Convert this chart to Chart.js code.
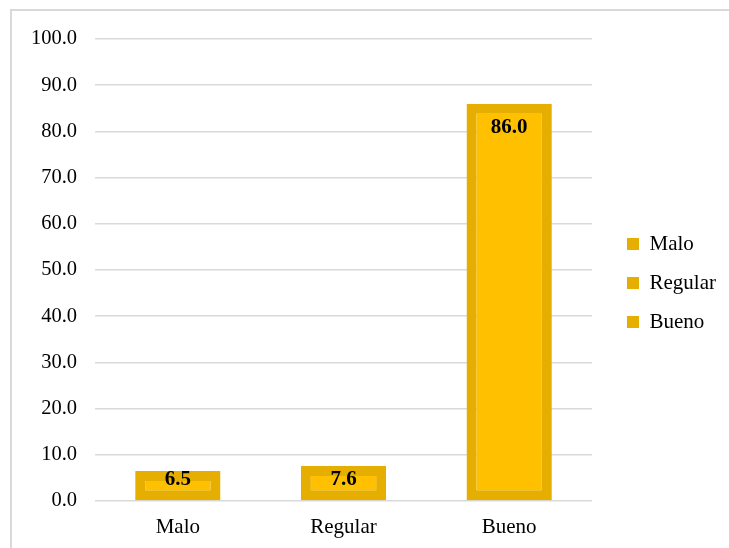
<!DOCTYPE html>
<html>
<head>
<meta charset="utf-8">
<script src="https://cdn.jsdelivr.net/npm/chart.js@4/dist/chart.umd.min.js"></script>
<style>
  html, body { margin: 0; padding: 0; background: #fff; overflow: hidden; }
  #frame { position: absolute; left: 10px; top: 9px; width: 718px; height: 600px;
           border-top: 2px solid #d9d9d9; border-left: 2px solid #d9d9d9; }
  #wrap { position: absolute; left: 0; top: 0; width: 729px; height: 548px; }
</style>
</head>
<body>
<div id="frame"></div>
<div id="wrap"><canvas id="chart" width="729" height="548"></canvas></div>
<script>
// Chart data
const categories = ['Malo', 'Regular', 'Bueno'];
const values = [6.5, 7.6, 86.0];
const yTicks = [0, 10, 20, 30, 40, 50, 60, 70, 80, 90, 100];

const barFill = '#FFC000';
const barEdge = '#E6AE00';
const fontFamily = '"Liberation Serif", "Times New Roman", serif';

// bold value labels inside the top of each bar
const valueLabels = {
    id: 'valueLabels',
    afterDatasetsDraw(chart) {
        const ctx = chart.ctx;
        const meta = chart.getDatasetMeta(0);
        ctx.save();
        ctx.font = 'bold 21px ' + fontFamily;
        ctx.fillStyle = '#000';
        ctx.textAlign = 'center';
        ctx.textBaseline = 'middle';
        meta.data.forEach((bar, i) => {
            const y = Math.min(bar.y + 24, bar.base - 21);
            ctx.fillText(values[i].toFixed(1), bar.x, y);
        });
        ctx.restore();
    }
};

// move the legend block to where it sits in the reference
const legendPlace = {
    id: 'legendPlace',
    afterLayout(chart) {
        const lg = chart.legend;
        lg.left = 609;
        lg.right = 729;
        lg.top = 9;
        lg.bottom = 557;
    }
};

const chart = new Chart(document.getElementById('chart').getContext('2d'), {
    type: 'bar',
    data: {
        labels: categories,
        datasets: [{
            data: values,
            backgroundColor: barFill,
            borderColor: barEdge,
            borderWidth: 10,
            borderSkipped: false,
            barPercentage: 0.515,
            categoryPercentage: 1
        }]
    },
    options: {
        responsive: false,
        animation: false,
        layout: { padding: { top: 39, left: 0, right: 20, bottom: 0 } },
        plugins: {
            tooltip: { enabled: false },
            legend: {
                position: 'right',
                labels: {
                    boxWidth: 12,
                    boxHeight: 12,
                    padding: 18,
                    color: '#000',
                    font: { family: fontFamily, size: 21 },
                    generateLabels() {
                        return categories.map((c, i) => ({
                            text: c,
                            fillStyle: barEdge,
                            strokeStyle: barEdge,
                            lineWidth: 0,
                            index: i
                        }));
                    }
                }
            }
        },
        scales: {
            x: {
                grid: { display: false, drawTicks: false },
                border: { display: false },
                ticks: { color: '#000', padding: 14, font: { family: fontFamily, size: 21 } },
                afterFit(axis) { axis.height = 47; }
            },
            y: {
                min: 0,
                max: 100,
                afterBuildTicks(axis) { axis.ticks = yTicks.map(v => ({ value: v })); },
                grid: { color: '#d9d9d9', lineWidth: 1.5, drawTicks: false },
                border: { display: false },
                ticks: {
                    color: '#000',
                    padding: 18,
                    font: { family: fontFamily, size: 20.5 },
                    callback: v => v.toFixed(1)
                },
                afterFit(axis) { axis.width = 95; }
            }
        }
    },
    plugins: [valueLabels, legendPlace]
});
</script>
</body>
</html>
